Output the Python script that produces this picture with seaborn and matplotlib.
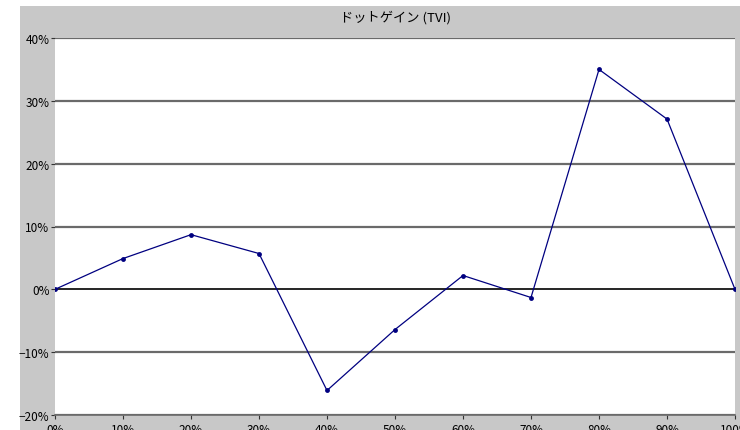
import numpy as np
import pandas as pd
import matplotlib
matplotlib.use("Agg")
import matplotlib.pyplot as plt
import seaborn as sns
from matplotlib.patches import Rectangle
from matplotlib.ticker import FuncFormatter

# dot gain values
tone = [0, 10, 20, 30, 40, 50, 60, 70, 80, 90, 100]
gain = [0, 4.9, 8.7, 5.7, -16.1, -6.4, 2.2, -1.3, 35.0, 27.1, 0]
y_ticks = [-20, -10, 0, 10, 20, 30, 40]

df = pd.DataFrame({"tone": tone, "gain": gain})

sns.set_style("white")
plt.rcParams['font.family'] = ['Noto Sans CJK JP', 'DejaVu Sans']
plt.rcParams['text.color'] = 'black'
plt.rcParams['xtick.color'] = 'black'
plt.rcParams['ytick.color'] = 'black'


def pct(v, p):
    return f"{v:.0f}%".replace("-", "\u2212")


fig = plt.figure(figsize=(7.4, 4.31), dpi=100)
fig.patch.set_facecolor("white")
# grey chart area like the spreadsheet frame
fig.patches.append(Rectangle((20 / 740, 0), 1 - 20 / 740, (431 - 7) / 431,
                             transform=fig.transFigure, facecolor="#c8c8c8",
                             edgecolor="none", zorder=-5))

ax = fig.add_axes([55 / 740, (431 - 416) / 431, 680 / 740, 377 / 431])
ax.set_facecolor("white")
ax.set_zorder(2)

for v in y_ticks:
    if v == 0:
        ax.axhline(v, color="black", lw=1.2, zorder=1)
    else:
        ax.axhline(v, color="#6a6a6a", lw=1.6, zorder=1)

sns.lineplot(data=df, x="tone", y="gain", ax=ax, color="#000080", lw=0.9,
             marker="o", markersize=3.5, markeredgewidth=0, zorder=3)

ax.set_xlim(0, 100)
ax.set_ylim(-20, 40)
ax.set_xticks(tone)
ax.set_yticks(y_ticks)
ax.xaxis.set_major_formatter(FuncFormatter(pct))
ax.yaxis.set_major_formatter(FuncFormatter(pct))
ax.tick_params(axis="both", labelsize=8.5, length=3, width=0.8, color="#333333",
               direction="out", left=True, bottom=True)
ax.tick_params(axis="x", pad=3)
ax.tick_params(axis="y", pad=1)
ax.set_xlabel("")
ax.set_ylabel("")
for s in ["top", "right", "left"]:
    ax.spines[s].set_visible(False)
ax.spines["bottom"].set_color("#6a6a6a")
ax.spines["bottom"].set_linewidth(1.2)

fig.text(395 / 740, 1 - 18 / 431, "ドットゲイン (TVI)", ha="center", va="center",
         fontsize=9.5, color="black")

fig.savefig("out.png", dpi=100)
